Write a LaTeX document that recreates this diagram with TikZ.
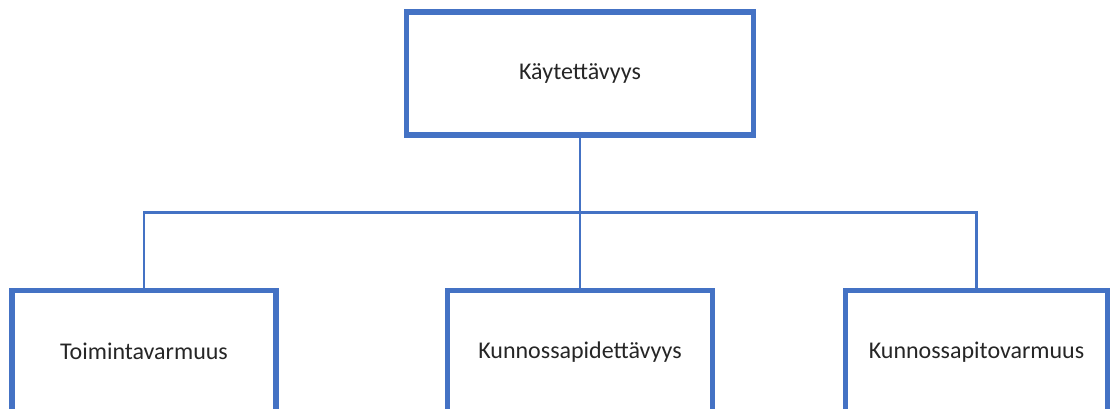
\documentclass[tikz,border=0pt]{standalone}
\usepackage{fontspec}
\setmainfont{Carlito}
\definecolor{boxblue}{HTML}{4472C4}
\definecolor{txt}{HTML}{262626}
\begin{document}
\begin{tikzpicture}[x=1pt,y=-1pt,
  box/.style={draw=boxblue,line width=5.5pt,fill=white,rectangle,inner sep=0pt,
    font=\fontsize{24}{28}\selectfont,text=txt},
  conn/.style={draw=boxblue,line width=2.5pt}]
\useasboundingbox (0,0) rectangle (1110,408);
\clip (0,0) rectangle (1110,408);
\fill[white] (0,0) rectangle (1110,408);
\coordinate (j) at (580,212.7);
\node[box,minimum width=347pt,minimum height=123pt] (top) at (580,73.5) {Käytettävyys};
\node[box,minimum width=264pt,minimum height=122.5pt] (left) at (144,351.75) {Toimintavarmuus};
\node[box,minimum width=264.6pt,minimum height=122.5pt] (mid) at (580,351.75) {Kunnossapidettävyys};
\node[box,minimum width=262pt,minimum height=122.5pt] (right) at (976.5,351.75) {Kunnossapitovarmuus};
\draw[conn] (top.south) -- (j);
\draw[conn] (left.north) |- (j) -| (right.north);
\draw[conn] (j) -- (mid.north);
\end{tikzpicture}
\end{document}
